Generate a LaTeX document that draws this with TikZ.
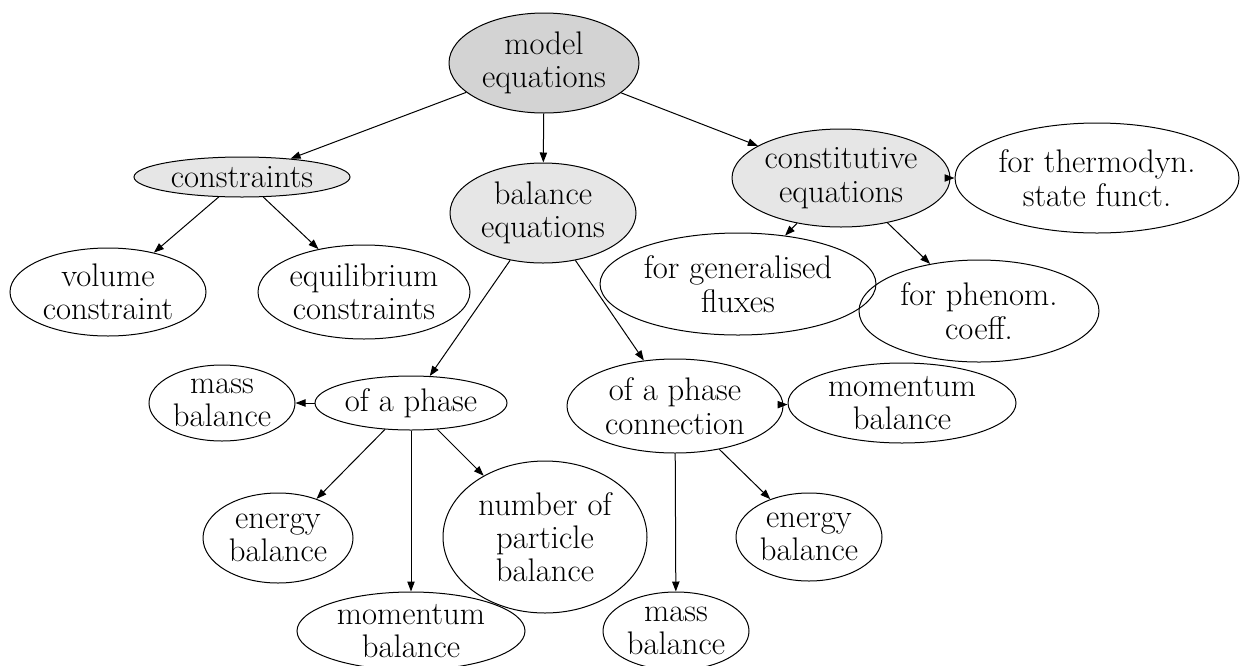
\documentclass[tikz,border=0pt]{standalone}
\usetikzlibrary{shapes.geometric,arrows.meta}
\definecolor{gdark}{HTML}{D3D3D3}
\definecolor{glight}{HTML}{E6E6E6}
\begin{document}
\begin{tikzpicture}[x=0.75pt,y=-0.75pt,
  el/.style n args={2}{ellipse, draw=black, line width=0.75pt, inner sep=0pt,
    align=center, font=\fontsize{24.5}{25}\selectfont,
    minimum width=#1*1.5pt, minimum height=#2*1.5pt},
  fdark/.style={fill=gdark},
  flight/.style={fill=glight},
  edge/.style={draw=black, line width=0.75pt, -{Triangle[length=7.5pt,width=5.5pt]}}
]
\path[use as bounding box] (0,0) rectangle (1260,665);

\node[el={95}{50}, fdark]  (model)  at (544,63)  {model\\equations};
\node[el={108}{20}, flight] (constr) at (242,177) {constraints};
\node[el={93}{50}, flight] (bal)    at (543,213) {balance\\equations};
\node[el={109}{49}, flight] (const) at (841,178) {constitutive\\equations};
\node[el={142}{55}]        (thermo) at (1097,178) {for thermodyn.\\state funct.};
\node[el={98}{44}]         (vol)    at (108,292) {volume\\constraint};
\node[el={106}{47}]        (equil)  at (364,292) {equilibrium\\constraints};
\node[el={138}{51}]        (gen)    at (738,284) {for generalised\\fluxes};
\node[el={120}{51}]        (phen)   at (979,311) {for phenom.\\coeff.};
\node[el={73}{38}]         (massL)  at (222,403) {mass\\balance};
\node[el={96}{27}]         (phase)  at (411,403) {of a phase};
\node[el={108}{47}]        (conn)   at (675,406) {of a phase\\connection};
\node[el={114}{40}]        (momR)   at (902,403) {momentum\\balance};
\node[el={75}{45}]         (enL)    at (278,538) {energy\\balance};
\node[el={102}{76}]        (npart)  at (545,537) {number of\\particle\\balance};
\node[el={73}{44}]         (enR)    at (809,537) {energy\\balance};
\node[el={114}{39}]        (momB)   at (411,631) {momentum\\balance};
\node[el={73}{39}]         (massB)  at (676,631) {mass\\balance};

\draw[edge] (model) -- (constr);
\draw[edge] (model) -- (bal);
\draw[edge] (model) -- (const);
\draw[edge] (constr) -- (vol);
\draw[edge] (constr) -- (equil);
\draw[edge] (bal) -- (phase);
\draw[edge] (bal) -- (conn);
\draw[edge] (const) -- (gen);
\draw[edge] (const) -- (phen);
\draw[edge] (const) -- (thermo);
\draw[edge] (phase) -- (massL);
\draw[edge] (phase) -- (enL);
\draw[edge] (phase) -- (momB);
\draw[edge] (phase) -- (npart);
\draw[edge] (conn) -- (momR);
\draw[edge] (conn) -- (massB);
\draw[edge] (conn) -- (enR);
\end{tikzpicture}
\end{document}
